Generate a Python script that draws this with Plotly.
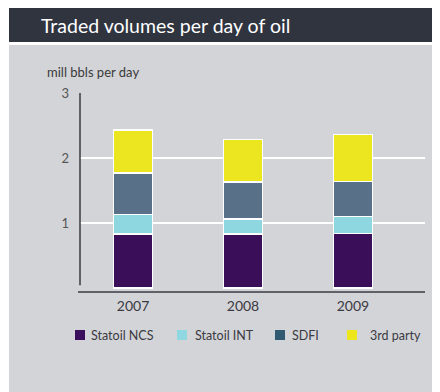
import plotly.graph_objects as go

years = ["2007", "2008", "2009"]
series_names = ["Statoil NCS", "Statoil INT", "SDFI", "3rd party"]
statoil_ncs = [0.83, 0.83, 0.84]
statoil_int = [0.30, 0.23, 0.26]
sdfi = [0.64, 0.57, 0.54]
third_party = [0.66, 0.65, 0.72]
y_ticks = [1, 2, 3]

bar_colors = ["#3a0e58", "#8ed6e0", "#587188", "#ebe61f"]
legend_colors = ["#3b0f5c", "#8fd7e1", "#305a72", "#ece61a"]
values = [statoil_ncs, statoil_int, sdfi, third_party]

W, H = 440, 392
L, R, T, B = 72, 23, 85, 108
PW, PH = W - L - R, H - T - B

def px(x):
    return (x - L) / PW

def py(y):
    return (H - B - y) / PH

fig = go.Figure()
for name, vals, col in zip(series_names, values, bar_colors):
    fig.add_trace(go.Bar(
        x=years, y=vals, name=name, width=0.36,
        marker=dict(color=col, line=dict(color="white", width=1.2)),
        showlegend=False, hoverinfo="skip"))

shapes = [
    dict(type="rect", xref="paper", yref="paper", x0=px(1), x1=px(431), y0=py(37), y1=py(400),
         fillcolor="#d3d4d8", line=dict(width=0), layer="below"),
    dict(type="rect", xref="paper", yref="paper", x0=px(1), x1=px(431), y0=py(-2), y1=py(34),
         fillcolor="#30343f", line=dict(width=0), layer="below"),
    dict(type="line", xref="paper", yref="y", x0=0, x1=0, y0=0.04, y1=3,
         line=dict(color="#3a3a42", width=1.5)),
    dict(type="line", xref="paper", yref="paper", x0=px(70), x1=1, y0=0, y1=0,
         line=dict(color="#3a3a42", width=1.5)),
]

annotations = [
    dict(text="Traded volumes per day of oil", xref="paper", yref="paper",
         x=px(31), y=py(17), xanchor="left", yanchor="middle", showarrow=False,
         font=dict(family="Lato", size=19.5, color="white")),
    dict(text="mill bbls per day", xref="paper", yref="paper",
         x=px(37), y=py(64), xanchor="left", yanchor="middle", showarrow=False,
         font=dict(family="Lato", size=13, color="#3a3a3a")),
]

leg_sq = [67, 169, 267, 339]
leg_tx = [81, 185, 282, 360]
for name, col, sx, tx in zip(series_names, legend_colors, leg_sq, leg_tx):
    shapes.append(dict(type="rect", xref="paper", yref="paper", x0=px(sx), x1=px(sx + 10),
                       y0=py(322), y1=py(332), fillcolor=col, line=dict(width=0)))
    annotations.append(dict(text=name, xref="paper", yref="paper", x=px(tx), y=py(327),
                            xanchor="left", yanchor="middle", showarrow=False,
                            font=dict(family="Lato", size=12.5, color="#3a3a42")))

fig.update_layout(
    width=W, height=H, margin=dict(l=L, r=R, t=T, b=B),
    paper_bgcolor="white", plot_bgcolor="#d3d4d8",
    barmode="stack", bargap=0.64,
    shapes=shapes, annotations=annotations,
    xaxis=dict(range=[-0.482, 2.655], showgrid=False, showline=False, zeroline=False,
               ticks="", tickfont=dict(family="Lato", size=14, color="#3a3a42"),
               ticklabelstandoff=4),
    yaxis=dict(range=[-0.062, 3.0], tickvals=y_ticks, showgrid=True, gridcolor="white",
               gridwidth=1.6, zeroline=False, showline=False, ticks="",
               tickfont=dict(family="Lato", size=13, color="#555555"),
               ticklabelstandoff=10),
)

fig.write_html("out.html")
